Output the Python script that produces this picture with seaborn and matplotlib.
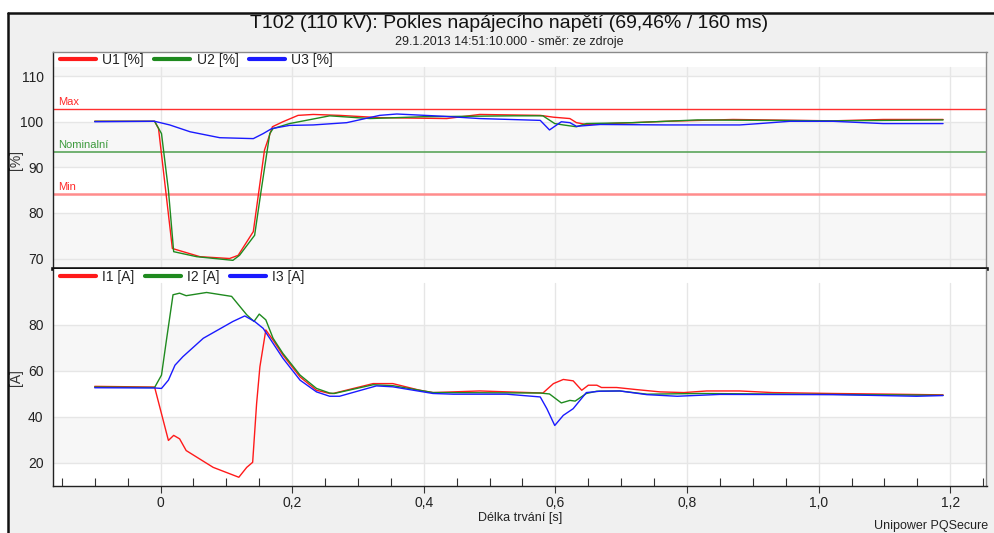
import numpy as np
import pandas as pd
import matplotlib
matplotlib.use("Agg")
import matplotlib.pyplot as plt
from matplotlib.ticker import FixedLocator, FuncFormatter
from matplotlib.patches import Rectangle
from matplotlib.lines import Line2D
import seaborn as sns

sns.set_theme(style="white")
plt.rcParams['font.family'] = ['Liberation Sans', 'DejaVu Sans']

# ---------------- data ----------------
u1_t = [-0.1, -0.009, -0.003, 0.018, 0.06, 0.105, 0.118, 0.141, 0.158, 0.170, 0.186, 0.209, 0.232, 0.272,
        0.333, 0.435, 0.485, 0.577, 0.597, 0.622, 0.632, 0.647, 0.683, 0.769, 0.870, 1.022, 1.098, 1.189]
u1_v = [100.1, 100.1, 98.5, 72.2, 70.4, 70.0, 70.7, 75.9, 93.8, 98.9, 100.0, 101.4, 101.6, 101.4,
        100.9, 100.7, 101.6, 101.4, 101.0, 100.7, 99.8, 99.4, 99.6, 100.1, 100.5, 100.2, 100.5, 100.5]
u2_t = [-0.1, -0.009, 0.0015, 0.012, 0.020, 0.055, 0.110, 0.120, 0.143, 0.153, 0.166, 0.171, 0.196, 0.232,
        0.257, 0.318, 0.399, 0.536, 0.581, 0.599, 0.612, 0.632, 0.647, 0.718, 0.816, 1.022, 1.189]
u2_v = [100.1, 100.1, 97.4, 85.0, 71.5, 70.4, 69.6, 70.7, 75.1, 85.0, 97.4, 98.5, 99.6, 100.6,
        101.3, 100.7, 101.1, 101.3, 101.3, 99.6, 99.3, 98.9, 99.6, 99.8, 100.4, 100.2, 100.4]
u3_t = [-0.1, -0.009, 0.014, 0.045, 0.09, 0.141, 0.156, 0.169, 0.196, 0.232, 0.283, 0.333, 0.359, 0.43,
        0.485, 0.577, 0.591, 0.609, 0.622, 0.632, 0.668, 0.769, 0.880, 0.91, 0.956, 1.022, 1.098, 1.189]
u3_v = [100.0, 100.1, 99.3, 97.8, 96.5, 96.3, 97.4, 98.5, 99.2, 99.3, 99.8, 101.4, 101.7, 101.2,
        100.7, 100.3, 98.2, 100.0, 99.8, 99.0, 99.4, 99.3, 99.3, 99.6, 100.1, 100.1, 99.6, 99.6]

i1_t = [-0.1, -0.009, 0.012, 0.020, 0.029, 0.039, 0.080, 0.119, 0.131, 0.140, 0.146, 0.151, 0.160, 0.171,
        0.186, 0.212, 0.237, 0.257, 0.262, 0.323, 0.353, 0.394, 0.414, 0.485, 0.581, 0.597, 0.612, 0.627,
        0.640, 0.650, 0.663, 0.670, 0.693, 0.723, 0.759, 0.795, 0.83, 0.88, 0.93, 1.022, 1.113, 1.189]
i1_v = [53.3, 53.0, 29.8, 32.0, 30.5, 25.4, 18.1, 13.8, 18.1, 20.3, 45.8, 61.8, 77.8, 73.4,
        66.9, 57.4, 51.6, 50.2, 50.2, 54.5, 54.5, 51.6, 50.6, 51.3, 50.4, 54.5, 56.3, 55.7,
        51.6, 53.8, 53.8, 52.8, 52.8, 51.9, 50.9, 50.6, 51.3, 51.3, 50.6, 50.2, 49.9, 49.6]
i2_t = [-0.1, -0.009, 0.0015, 0.009, 0.019, 0.029, 0.039, 0.070, 0.108, 0.131, 0.142, 0.150, 0.160, 0.171,
        0.186, 0.212, 0.237, 0.257, 0.264, 0.323, 0.353, 0.414, 0.577, 0.591, 0.609, 0.622, 0.630, 0.647,
        0.663, 0.698, 0.739, 0.82, 1.022, 1.189]
i2_v = [53.0, 52.8, 58.2, 73.4, 93.1, 93.8, 92.7, 94.1, 92.4, 84.4, 81.5, 84.7, 82.2, 74.2,
        67.6, 58.2, 52.4, 50.4, 50.2, 54.0, 53.6, 50.6, 50.4, 50.0, 46.1, 47.2, 46.9, 50.2,
        51.2, 51.3, 49.9, 50.2, 49.8, 49.4]
i3_t = [-0.1, -0.009, 0.0015, 0.012, 0.022, 0.034, 0.065, 0.110, 0.128, 0.143, 0.156, 0.171, 0.186, 0.212,
        0.237, 0.257, 0.272, 0.328, 0.353, 0.414, 0.445, 0.526, 0.577, 0.587, 0.599, 0.612, 0.627, 0.647,
        0.668, 0.698, 0.739, 0.785, 0.85, 1.022, 1.149, 1.189]
i3_v = [52.7, 52.6, 52.4, 56.0, 62.5, 66.2, 74.2, 81.5, 83.9, 81.5, 78.5, 72.0, 65.5, 56.0,
        50.9, 49.0, 49.0, 53.5, 53.1, 50.2, 49.9, 49.9, 48.7, 43.6, 36.3, 40.7, 43.6, 50.6,
        51.2, 51.3, 49.7, 49.0, 49.8, 49.7, 49.0, 49.3]

u_names = ["U1 [%]", "U2 [%]", "U3 [%]"]
i_names = ["I1 [A]", "I2 [A]", "I3 [A]"]
limit_names = ["Max", "Nominalní", "Min"]
limit_values = [102.9, 93.4, 84.2]

title = "T102 (110 kV): Pokles napájecího napětí (69,46% / 160 ms)"
subtitle = "29.1.2013 14:51:10.000 - směr: ze zdroje"
xlabel = "Délka trvání [s]"
footer = "Unipower PQSecure"

colors = ["#ff1a1a", "#1f8a1f", "#1a1aff"]

# ---------------- figure ----------------
W, H = 995, 533
fig = plt.figure(figsize=(W / 100, H / 100), dpi=100, facecolor="white")

def fx(px):
    return px / W

def fy(py):
    return 1 - py / H

# outer grey frame (left and top border only visible)
fig.patches.append(Rectangle((fx(8), 0), 1 - fx(8), fy(13), transform=fig.transFigure,
                             facecolor="#f0f0f0", edgecolor="none", zorder=-10))
fig.lines.append(Line2D([fx(8), fx(8)], [0, fy(13)], transform=fig.transFigure, color="#111111", lw=1.8))
fig.lines.append(Line2D([fx(8), 1], [fy(13), fy(13)], transform=fig.transFigure, color="#111111", lw=1.8))

left, right = 53.3, 986.5
ax1 = fig.add_axes([fx(left), fy(269), fx(right) - fx(left), fy(52) - fy(269)])
ax2 = fig.add_axes([fx(left), fy(486), fx(right) - fx(left), fy(269) - fy(486)])

xlim = (-0.1629, 1.255)
ylim1 = (67.7, 115.3)
ylim2 = (10.0, 104.3)
grid_top1 = 112.0
grid_top2 = 98.3

df_u = pd.concat([pd.DataFrame({"t": t, "v": v, "s": n}) for t, v, n in
                  zip([u1_t, u2_t, u3_t], [u1_v, u2_v, u3_v], u_names)], ignore_index=True)
df_i = pd.concat([pd.DataFrame({"t": t, "v": v, "s": n}) for t, v, n in
                  zip([i1_t, i2_t, i3_t], [i1_v, i2_v, i3_v], i_names)], ignore_index=True)

band_col = "#f7f7f7"
grid_col = "#e6e6e6"

for ax, ylim, gtop, bands, majors, minors in [
        (ax1, ylim1, grid_top1, [(110, grid_top1), (90, 100), (ylim1[0], 80)],
         [70, 80, 90, 100, 110], [75, 85, 95, 105]),
        (ax2, ylim2, grid_top2, [(60, 80), (20, 40)],
         [20, 40, 60, 80], [15, 25, 30, 35, 45, 50, 55, 65, 70, 75, 85, 90, 95])]:
    ax.set_facecolor("white")
    ax.set_xlim(*xlim)
    ax.set_ylim(*ylim)
    for lo, hi in bands:
        ax.axhspan(lo, hi, color=band_col, lw=0, zorder=0)
    for m in majors:
        ax.plot(xlim, [m, m], color=grid_col, lw=1, zorder=0.5)
    for xv in [0, 0.2, 0.4, 0.6, 0.8, 1.0, 1.2]:
        ax.plot([xv, xv], [ylim[0], gtop], color=grid_col, lw=1, zorder=0.5)
    ax.yaxis.set_major_locator(FixedLocator(majors))
    ax.yaxis.set_minor_locator(FixedLocator(minors))
    ax.tick_params(axis="y", which="major", direction="out", length=5, width=0.8, color="#333333",
                   labelsize=10, labelcolor="#222222", pad=2)
    ax.tick_params(axis="y", which="minor", direction="in", length=5, width=0.8, color="#333333")
    for s in ["top", "right"]:
        ax.spines[s].set_color("#8a8a8a")
        ax.spines[s].set_linewidth(1)
    ax.spines["left"].set_color("#222222")
    ax.spines["left"].set_linewidth(1)

# limit lines
lim_styles = [("#ff3030", 1.0), ("#5aa55a", 1.2), ("#ff8c8c", 1.8)]
lim_text_cols = ["#ff2a2a", "#3c9a3c", "#ff2a2a"]
for name, val, (c, lw), tc in zip(limit_names, limit_values, lim_styles, lim_text_cols):
    ax1.axhline(val, color=c, lw=lw, zorder=1)
    ax1.text(-0.156, val + 0.35, name, color=tc, fontsize=8, ha="left", va="bottom", zorder=3)

sns.lineplot(data=df_u, x="t", y="v", hue="s", palette=colors, estimator=None, sort=False,
             lw=1, ax=ax1, zorder=2)
sns.lineplot(data=df_i, x="t", y="v", hue="s", palette=colors, estimator=None, sort=False,
             lw=1, ax=ax2, zorder=2)

# legends
for ax in (ax1, ax2):
    leg = ax.legend(loc="upper left", ncol=3, frameon=False, fontsize=10, handlelength=2.6,
                    handletextpad=0.45, columnspacing=0.75, borderaxespad=0.0,
                    bbox_to_anchor=(0.001, 1.02))
    for h in leg.get_lines():
        h.set_linewidth(3)
    for t in leg.get_texts():
        t.set_color("#222222")

# axes specifics
ax1.set_xticks([])
ax1.set_xlabel("")
ax1.set_ylabel("[%]", fontsize=10, color="#333333")
ax1.spines["bottom"].set_color("#111111")
ax1.spines["bottom"].set_linewidth(2.6)

ax2.spines["top"].set_visible(False)
ax2.spines["bottom"].set_color("#222222")
ax2.spines["bottom"].set_linewidth(1)
ax2.set_ylabel("[A]", fontsize=10, color="#333333")
ax2.xaxis.set_major_locator(FixedLocator([0, 0.2, 0.4, 0.6, 0.8, 1.0, 1.2]))
ax2.xaxis.set_minor_locator(FixedLocator([-0.15, -0.1, -0.05, 0.05, 0.1, 0.15, 0.25, 0.3, 0.35, 0.45, 0.5,
                                          0.55, 0.65, 0.7, 0.75, 0.85, 0.9, 0.95, 1.05, 1.1, 1.15, 1.25]))
ax2.xaxis.set_major_formatter(FuncFormatter(lambda v, p: "0" if abs(v) < 1e-9 else f"{v:.1f}".replace(".", ",")))
ax2.tick_params(axis="x", which="major", direction="out", length=5, width=0.8, color="#333333",
                labelsize=10, labelcolor="#222222", pad=2, bottom=True)
ax2.tick_params(axis="x", which="minor", direction="in", length=6, width=0.8, color="#333333", bottom=True)
ax2.set_xlabel(xlabel, fontsize=9, color="#222222", labelpad=2)

ax1.yaxis.set_label_coords(-0.033, 0.5)
ax2.yaxis.set_label_coords(-0.033, 0.5)

fig.text(fx(509), fy(23), title, ha="center", va="center", fontsize=14, color="#111111")
fig.text(fx(509), fy(42), subtitle, ha="center", va="center", fontsize=9, color="#222222")
fig.text(fx(988), fy(526), footer, ha="right", va="center", fontsize=9, color="#222222")

fig.savefig("out.png", dpi=100, facecolor="white")
